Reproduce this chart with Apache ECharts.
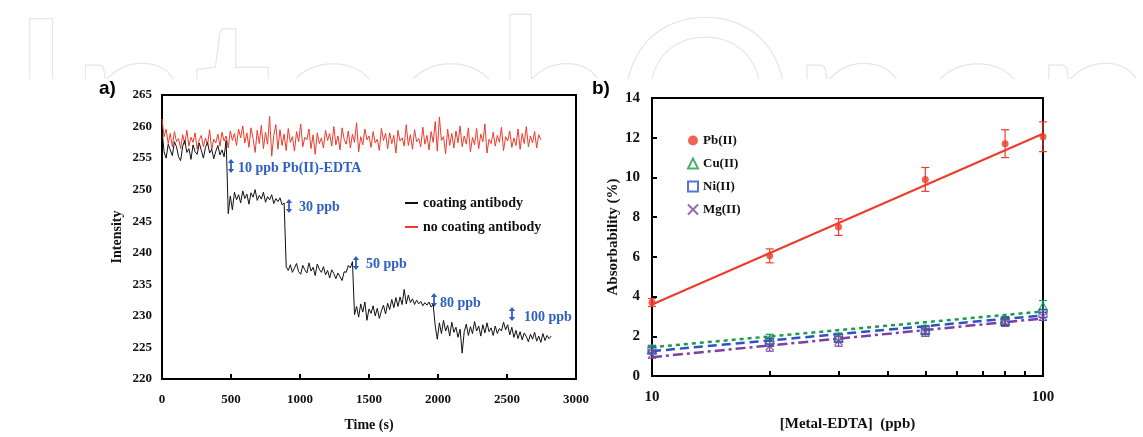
<!DOCTYPE html>
<html><head><meta charset="utf-8">
<script src="https://cdn.jsdelivr.net/npm/echarts@6/dist/echarts.min.js"></script>
<style>html,body{margin:0;padding:0;background:#fff}#c{width:1143px;height:437px}</style>
</head><body><div id="c"></div>
<script>
// ---------- Panel a: sensor intensity vs time ----------
const timeS = [
0,15,30,45,60,75,90,105,120,135,
150,165,180,195,210,225,240,255,270,285,
300,315,330,345,360,375,390,405,420,435,
450,465,480,495,510,525,540,555,570,585,
600,615,630,645,660,675,690,705,720,735,
750,765,780,795,810,825,840,855,870,885,
900,915,930,945,960,975,990,1005,1020,1035,
1050,1065,1080,1095,1110,1125,1140,1155,1170,1185,
1200,1215,1230,1245,1260,1275,1290,1305,1320,1335,
1350,1365,1380,1395,1410,1425,1440,1455,1470,1485,
1500,1515,1530,1545,1560,1575,1590,1605,1620,1635,
1650,1665,1680,1695,1710,1725,1740,1755,1770,1785,
1800,1815,1830,1845,1860,1875,1890,1905,1920,1935,
1950,1965,1980,1995,2010,2025,2040,2055,2070,2085,
2100,2115,2130,2145,2160,2175,2190,2205,2220,2235,
2250,2265,2280,2295,2310,2325,2340,2355,2370,2385,
2400,2415,2430,2445,2460,2475,2490,2505,2520,2535,
2550,2565,2580,2595,2610,2625,2640,2655,2670,2685,
2700,2715,2730,2745,2760,2775,2790,2805,2820];

const coatedIntensity = [
// 0-465 s
259.5,256.0,255.0,257.2,256.3,255.4,257.6,256.8,255.2,254.6,256.9,257.8,255.9,256.5,254.8,257.1,
256.0,255.6,257.4,256.2,255.0,256.7,257.5,255.8,256.4,254.9,256.1,257.0,255.5,256.3,255.2,257.8,
// 480-885 s (10 ppb)
246.2,249.0,246.8,249.6,248.4,249.2,247.9,249.8,248.6,249.3,247.7,249.5,248.8,250.0,
248.3,249.1,248.5,249.6,248.0,248.9,248.4,249.2,247.8,248.6,248.1,248.7,247.6,247.9,
// 900-1380 s (30 ppb)
237.8,237.2,238.1,236.9,237.6,238.3,237.0,236.6,238.0,237.3,236.8,238.4,237.1,237.7,236.4,238.2,237.4,
236.9,237.8,236.5,237.2,236.0,237.3,236.7,235.9,236.8,236.2,235.6,237.0,236.9,238.0,237.6,238.6,
// 1395-1965 s (50 ppb)
230.2,231.5,229.8,231.9,230.6,232.2,229.3,231.1,230.4,231.6,230.0,231.2,229.6,230.8,231.7,230.3,232.0,231.0,232.6,231.3,
232.9,231.5,233.0,231.8,234.2,231.9,233.3,232.1,232.7,231.8,232.5,231.9,232.3,231.6,232.1,231.7,232.2,231.4,231.8,
// 1980-2820 s (80 / 100 ppb)
228.4,226.3,228.9,227.2,229.3,227.6,228.5,226.8,229.0,227.4,228.2,226.6,227.9,224.1,227.5,228.7,226.9,228.3,227.2,
229.1,227.6,228.4,226.8,228.6,227.3,228.9,227.5,228.1,226.9,228.4,227.2,228.0,227.6,229.0,227.8,228.6,227.0,228.2,
226.6,227.7,226.4,227.5,226.2,227.3,226.7,225.9,227.1,226.3,227.4,226.0,226.8,225.8,227.2,226.1,226.9,226.4,226.8];

const uncoatedIntensity = [
261.2,258.4,259.6,257.3,258.9,256.8,259.2,257.6,258.1,256.5,
258.7,257.2,259.4,256.9,258.3,257.5,259.0,256.4,257.9,258.6,
256.8,258.2,257.1,259.5,256.3,258.0,257.4,258.8,256.9,259.1,
257.7,258.5,256.6,259.3,257.8,258.9,257.0,259.6,258.2,260.1,
257.4,259.0,256.7,259.8,258.1,255.9,259.4,257.3,260.2,256.5,
259.1,257.2,261.6,255.3,258.6,260.3,256.4,259.5,257.0,258.8,
256.2,259.7,257.5,258.4,256.1,259.2,257.6,260.4,256.8,258.3,
257.9,259.6,256.5,258.7,255.6,259.0,257.3,258.2,256.6,259.4,
257.8,258.9,256.9,260.0,257.1,258.5,256.3,259.8,258.0,257.2,
259.3,256.6,258.8,257.5,260.6,256.0,258.4,257.1,259.6,257.9,
258.5,256.7,259.2,257.4,258.0,256.2,259.7,257.8,258.9,256.5,
259.0,257.3,258.6,255.8,259.4,257.7,258.2,256.9,260.3,257.0,
258.7,256.4,259.5,257.6,258.1,256.8,259.9,257.2,258.6,256.3,
259.2,257.5,260.8,256.1,261.5,257.8,258.4,255.7,259.6,257.0,
258.9,256.6,259.3,257.4,260.1,256.8,258.5,257.2,259.8,256.0,
258.3,257.1,259.7,256.5,258.8,257.6,260.4,255.8,258.0,257.3,
259.1,256.9,258.6,257.5,259.9,256.2,258.4,257.7,259.3,256.7,
258.2,257.0,259.6,256.4,258.9,257.3,260.0,256.8,258.5,257.4,
259.2,256.6,258.7,257.9];

const annotationsA = ['10 ppb Pb(II)-EDTA', '30 ppb', '50 ppb', '80 ppb', '100 ppb'];

// ---------- Panel b: absorbability vs concentration ----------
const concPpb = [10, 20, 30, 50, 80, 100];
const pbVal = [3.7, 6.05, 7.5, 9.9, 11.7, 12.05];
const pbErr = [0.2, 0.35, 0.42, 0.6, 0.7, 0.75];
const cuVal = [1.35, 1.85, 1.95, 2.35, 2.8, 3.5];
const cuErr = [0.2, 0.25, 0.2, 0.2, 0.2, 0.3];
const niVal = [1.3, 1.7, 1.9, 2.3, 2.75, 3.15];
const niErr = [0.15, 0.2, 0.2, 0.2, 0.2, 0.2];
const mgVal = [1.1, 1.5, 1.75, 2.2, 2.7, 3.0];
const mgErr = [0.2, 0.25, 0.25, 0.2, 0.2, 0.2];
const fitX = [10, 100];
const pbFit = [3.6, 12.2];
const cuFit = [1.45, 3.25];
const niFit = [1.25, 3.05];
const mgFit = [0.95, 2.9];
const logMinorTicks = [10, 20, 30, 40, 50, 60, 70, 80, 90, 100];

// ---------- styling ----------
const SERIF = '"Liberation Serif", "Times New Roman", serif';
const ANN = '#2f5fc4';
const RED = '#ee3b2c';
const GREEN = '#1f9a4c';
const BLUE = '#2b52c9';
const PURPLE = '#7e3fa0';

function pairs(xs, ys) { return ys.map((y, i) => [xs[i], y]); }
function errData(xs, ys, es) { return ys.map((y, i) => [xs[i], y - es[i], y + es[i]]); }

function errorSeries(xs, ys, es, color) {
  return {
    type: 'custom', xAxisIndex: 1, yAxisIndex: 1, clip: false, silent: true, z: 3,
    data: errData(xs, ys, es),
    renderItem(params, api) {
      const x = api.value(0);
      const lo = api.coord([x, api.value(1)]);
      const hi = api.coord([x, api.value(2)]);
      const w = 4;
      const st = { stroke: color, lineWidth: 1.2 };
      return { type: 'group', children: [
        { type: 'line', shape: { x1: lo[0], y1: lo[1], x2: hi[0], y2: hi[1] }, style: st },
        { type: 'line', shape: { x1: lo[0] - w, y1: lo[1], x2: lo[0] + w, y2: lo[1] }, style: st },
        { type: 'line', shape: { x1: hi[0] - w, y1: hi[1], x2: hi[0] + w, y2: hi[1] }, style: st }
      ]};
    }
  };
}

function arrow(x, yc, h) {
  return { type: 'group', z: 10, children: [
    { type: 'line', shape: { x1: x, y1: yc - h + 3, x2: x, y2: yc + h - 3 }, style: { stroke: ANN, lineWidth: 1.8 } },
    { type: 'polygon', shape: { points: [[x - 3.2, yc - h + 4], [x + 3.2, yc - h + 4], [x, yc - h]] }, style: { fill: ANN } },
    { type: 'polygon', shape: { points: [[x - 3.2, yc + h - 4], [x + 3.2, yc + h - 4], [x, yc + h]] }, style: { fill: ANN } }
  ]};
}
function annText(str, x, y) {
  return { type: 'text', x: x, y: y, z: 10,
    style: { text: str, font: 'bold 14px ' + SERIF, fill: ANN, verticalAlign: 'middle' } };
}

const axisLineStyle = { color: '#000', width: 2 };
const tickStyle = { show: true, inside: true, length: 5, lineStyle: { color: '#000', width: 2 } };
const plainNum = v => String(v);

const chart = echarts.init(document.getElementById('c'));
chart.setOption({
  backgroundColor: '#fff',
  animation: false,
  grid: [
    { left: 162, top: 95, width: 414, height: 287, show: true, borderColor: '#000', borderWidth: 2 },
    { left: 652, top: 98, width: 391, height: 284, show: true, borderColor: '#000', borderWidth: 2 }
  ],
  xAxis: [
    { gridIndex: 0, type: 'value', min: 0, max: 3000, interval: 500,
      axisLine: { lineStyle: axisLineStyle }, axisTick: tickStyle, splitLine: { show: false },
      axisLabel: { color: '#111', fontFamily: SERIF, fontWeight: 'bold', fontSize: 13, margin: 14, formatter: plainNum },
      name: 'Time (s)', nameLocation: 'middle', nameGap: 39,
      nameTextStyle: { color: '#111', fontFamily: SERIF, fontWeight: 'bold', fontSize: 14 } },
    { gridIndex: 1, type: 'log', logBase: 10, min: 10, max: 100,
      axisLine: { lineStyle: axisLineStyle },
      axisTick: { show: true, inside: true, length: 5, lineStyle: { color: '#000', width: 2 }, customValues: logMinorTicks },
      splitLine: { show: false }, minorTick: { show: false },
      axisLabel: { color: '#111', fontFamily: SERIF, fontWeight: 'bold', fontSize: 15, margin: 14, formatter: plainNum },
      name: '[Metal-EDTA]  (ppb)', nameLocation: 'middle', nameGap: 41,
      nameTextStyle: { color: '#111', fontFamily: SERIF, fontWeight: 'bold', fontSize: 15 } }
  ],
  yAxis: [
    { gridIndex: 0, type: 'value', min: 220, max: 265, interval: 5,
      axisLine: { lineStyle: axisLineStyle }, axisTick: { show: false }, splitLine: { show: false },
      axisLabel: { color: '#111', fontFamily: SERIF, fontWeight: 'bold', fontSize: 13, margin: 10 },
      name: 'Intensity', nameLocation: 'middle', nameGap: 38,
      nameTextStyle: { color: '#111', fontFamily: SERIF, fontWeight: 'bold', fontSize: 14 } },
    { gridIndex: 1, type: 'value', min: 0, max: 14, interval: 2,
      axisLine: { lineStyle: axisLineStyle }, axisTick: tickStyle, splitLine: { show: false },
      axisLabel: { color: '#111', fontFamily: SERIF, fontWeight: 'bold', fontSize: 15, margin: 12 },
      name: 'Absorbability (%)', nameLocation: 'middle', nameGap: 29,
      nameTextStyle: { color: '#111', fontFamily: SERIF, fontWeight: 'bold', fontSize: 15 } }
  ],
  legend: [
    { data: ['coating antibody', 'no coating antibody'], orient: 'vertical', left: 400, top: 191,
      icon: 'rect', itemWidth: 13, itemHeight: 2, itemGap: 10,
      textStyle: { color: '#111', fontFamily: SERIF, fontWeight: 'bold', fontSize: 14 } },
    { data: ['Pb(II)', 'Cu(II)', 'Ni(II)', 'Mg(II)'], orient: 'vertical', left: 682, top: 129,
      itemWidth: 10, itemHeight: 10, itemGap: 10,
      textStyle: { color: '#111', fontFamily: SERIF, fontWeight: 'bold', fontSize: 13 } }
  ],
  series: [
    { name: 'coating antibody', type: 'line', xAxisIndex: 0, yAxisIndex: 0, showSymbol: false, z: 4,
      data: pairs(timeS, coatedIntensity), lineStyle: { color: '#111', width: 1 }, itemStyle: { color: '#111' } },
    { name: 'no coating antibody', type: 'line', xAxisIndex: 0, yAxisIndex: 0, showSymbol: false, z: 3,
      data: pairs(timeS, uncoatedIntensity), lineStyle: { color: RED, width: 1 }, itemStyle: { color: RED } },

    // fit lines
    { type: 'line', xAxisIndex: 1, yAxisIndex: 1, showSymbol: false, silent: true, z: 2,
      data: pairs(fitX, pbFit), lineStyle: { color: RED, width: 2 } },
    { type: 'line', xAxisIndex: 1, yAxisIndex: 1, showSymbol: false, silent: true, z: 2,
      data: pairs(fitX, cuFit), lineStyle: { color: GREEN, width: 2.5, type: [4, 4] } },
    { type: 'line', xAxisIndex: 1, yAxisIndex: 1, showSymbol: false, silent: true, z: 2,
      data: pairs(fitX, niFit), lineStyle: { color: BLUE, width: 2.5, type: [9, 5] } },
    { type: 'line', xAxisIndex: 1, yAxisIndex: 1, showSymbol: false, silent: true, z: 2,
      data: pairs(fitX, mgFit), lineStyle: { color: PURPLE, width: 2.5, type: [10, 4, 3, 4] } },

    // error bars
    errorSeries(concPpb, pbVal, pbErr, RED),
    errorSeries(concPpb, cuVal, cuErr, GREEN),
    errorSeries(concPpb, niVal, niErr, BLUE),
    errorSeries(concPpb, mgVal, mgErr, PURPLE),

    // points
    { name: 'Pb(II)', type: 'scatter', xAxisIndex: 1, yAxisIndex: 1, clip: false, z: 5,
      data: pairs(concPpb, pbVal), symbol: 'circle', symbolSize: 7, itemStyle: { color: RED } },
    { name: 'Cu(II)', type: 'scatter', xAxisIndex: 1, yAxisIndex: 1, clip: false, z: 5,
      data: pairs(concPpb, cuVal), symbol: 'triangle', symbolSize: 9,
      itemStyle: { color: 'rgba(255,255,255,0)', borderColor: GREEN, borderWidth: 1.2 } },
    { name: 'Ni(II)', type: 'scatter', xAxisIndex: 1, yAxisIndex: 1, clip: false, z: 5,
      data: pairs(concPpb, niVal), symbol: 'rect', symbolSize: 8,
      itemStyle: { color: 'rgba(255,255,255,0)', borderColor: BLUE, borderWidth: 1.2 } },
    { name: 'Mg(II)', type: 'scatter', xAxisIndex: 1, yAxisIndex: 1, clip: false, z: 5,
      data: pairs(concPpb, mgVal), symbol: 'path://M0,0L10,10M10,0L0,10', symbolSize: 8,
      itemStyle: { color: 'rgba(255,255,255,0)', borderColor: PURPLE, borderWidth: 1.3 } }
  ],
  graphic: [
    { type: 'text', x: 10, y: 106, z: -10, silent: true,
      style: { text: 'IntechOpen', font: '222px Lato, "Open Sans", sans-serif', fill: '#ffffff', stroke: '#e6e6e6', lineWidth: 2.5, verticalAlign: 'middle', align: 'left' } },
    { type: 'rect', z: -9, silent: true, shape: { x: 0, y: 79, width: 1143, height: 358 }, style: { fill: '#fff' } },
    { type: 'text', x: 99, y: 89, z: 10, style: { text: 'a)', font: 'bold 19px "Liberation Sans", Arial, sans-serif', fill: '#000', verticalAlign: 'middle' } },
    { type: 'text', x: 592, y: 89, z: 10, style: { text: 'b)', font: 'bold 19px "Liberation Sans", Arial, sans-serif', fill: '#000', verticalAlign: 'middle' } },
    arrow(231, 166, 7), annText(annotationsA[0], 238, 168),
    arrow(289, 206, 7), annText(annotationsA[1], 299, 207),
    arrow(356, 263, 7), annText(annotationsA[2], 366, 264),
    arrow(434, 300, 7), annText(annotationsA[3], 440, 303),
    arrow(512, 314, 7), annText(annotationsA[4], 524, 317)
  ]
});
</script>
</body></html>
